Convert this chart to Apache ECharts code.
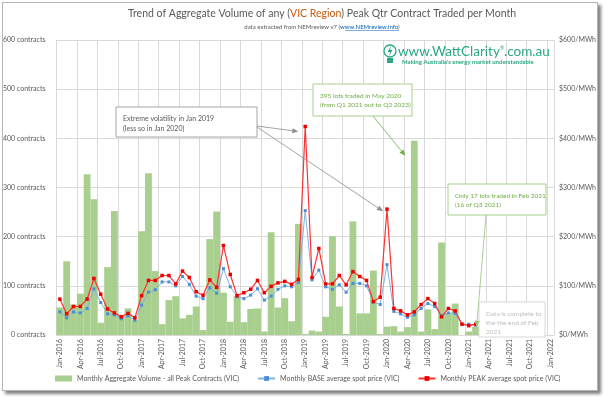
<!DOCTYPE html>
<html>
<head>
<meta charset="utf-8">
<script src="https://cdn.jsdelivr.net/npm/echarts/dist/echarts.min.js"></script>
<style>
html, body { margin: 0; padding: 0; background: #fff; }
#frame { position: absolute; left: 2px; top: 2px; width: 594px; height: 387px; border: 1px solid #b5b5b5; box-shadow: 3px 3px 3px #808080; background: #fff; }
#main { position: absolute; left: 0; top: 0; width: 604px; height: 397px; }
</style>
</head>
<body>
<div id="frame"></div>
<div id="main"></div>
<script>
// month labels Jan-2016 .. Jan-2022
var years = [2016, 2017, 2018, 2019, 2020, 2021, 2022];
var monthNames = ['Jan', 'Feb', 'Mar', 'Apr', 'May', 'Jun', 'Jul', 'Aug', 'Sep', 'Oct', 'Nov', 'Dec'];
var categories = [];
years.forEach(function (y) {
    monthNames.forEach(function (m) { categories.push(m + '-' + y); });
});
categories = categories.slice(0, 73);

// contracts traded per month (Jan 2016 .. Feb 2021)
var volume = [56, 150, 62, 84, 327, 276, 25, 138, 252, 38, 54, 31,
    211, 329, 130, 22, 71, 79, 34, 41, 58, 10, 195, 251,
    86, 27, 79, 26, 53, 54, 7, 209, 56, 75, 28, 226,
    2, 9, 7, 37, 201, 58, 2, 231, 44, 44, 131, 2,
    17, 18, 7, 16, 395, 7, 52, 12, 188, 44, 64, 0,
    7, 17];

// $/MWh
var basePrice = [47, 35, 47, 45, 54, 94, 66, 43, 41, 33, 39, 30,
    61, 87, 92, 108, 108, 100, 119, 103, 79, 74, 96, 85,
    135, 98, 78, 74, 81, 94, 71, 79, 93, 100, 98, 107,
    253, 112, 132, 98, 93, 102, 87, 105, 105, 100, 67, 62,
    143, 48, 43, 36, 41, 54, 64, 58, 39, 45, 44, 22,
    22, 20];

var peakPrice = [73, 43, 58, 58, 73, 115, 83, 53, 45, 37, 44, 35,
    80, 111, 111, 121, 121, 104, 130, 117, 88, 81, 112, 97,
    182, 123, 80, 86, 93, 111, 86, 99, 106, 109, 103, 113,
    424, 117, 176, 104, 104, 121, 102, 129, 119, 111, 68, 77,
    256, 54, 49, 41, 47, 62, 74, 64, 37, 54, 49, 22,
    19, 22];

var seriesNames = ['Monthly Aggregate Volume - all Peak Contracts (VIC)',
    'Monthly BASE average spot price (VIC)',
    'Monthly PEAK average spot price (VIC)'];

var font = 'Lato, "Liberation Sans", sans-serif';
var grey = '#595959';

var myChart = echarts.init(document.getElementById('main'));

var option = {
    animation: false,
    textStyle: { fontFamily: font },
    grid: { left: 53, right: 50, top: 40, bottom: 62 },
    legend: {
        left: 50,
        bottom: 10,
        itemGap: 18,
        itemWidth: 17,
        itemHeight: 6,
        textStyle: { fontSize: 7, color: grey, fontFamily: font },
        data: [
            { name: seriesNames[0], icon: 'rect' },
            { name: seriesNames[1] },
            { name: seriesNames[2] }
        ]
    },
    xAxis: {
        type: 'category',
        data: categories,
        boundaryGap: true,
        axisTick: { show: false },
        axisLine: { lineStyle: { color: '#d9d9d9' } },
        axisLabel: {
            interval: 2,
            rotate: 90,
            fontSize: 7,
            color: grey,
            margin: 4,
            padding: [0, 0, 7, 0]
        },
        splitLine: { show: true, interval: 2, lineStyle: { color: '#d9d9d9' } }
    },
    yAxis: [
        {
            type: 'value',
            min: 0, max: 600, interval: 100,
            axisLine: { show: false },
            axisTick: { show: false },
            axisLabel: { formatter: '{value} contracts', fontSize: 7, color: grey, margin: 11 },
            splitLine: { lineStyle: { color: '#d9d9d9' } }
        },
        {
            type: 'value',
            min: 0, max: 600, interval: 100,
            axisLine: { show: false },
            axisTick: { show: false },
            axisLabel: { formatter: '${value}/MWh', fontSize: 7, color: grey, margin: 5 },
            splitLine: { show: false }
        }
    ],
    series: [
        {
            name: seriesNames[0],
            type: 'bar',
            data: volume,
            barCategoryGap: '0%',
            itemStyle: { color: '#a8cf8e' }
        },
        {
            name: seriesNames[1],
            type: 'line',
            yAxisIndex: 1,
            data: basePrice,
            symbol: 'rect',
            symbolSize: 3,
            color: '#5b9bd5',
            lineStyle: { width: 1, color: '#7fb2e0' },
            itemStyle: { color: '#4a8fd6' }
        },
        {
            name: seriesNames[2],
            type: 'line',
            yAxisIndex: 1,
            data: peakPrice,
            symbol: 'rect',
            symbolSize: 3.5,
            color: '#ff0000',
            lineStyle: { width: 1.2, color: '#ff3030' },
            itemStyle: { color: '#ee0000' }
        }
    ]
};

myChart.setOption(option);

// annotations
function arrow(x1, y1, x2, y2, color, w) {
    var ang = Math.atan2(y2 - y1, x2 - x1);
    var L = 6, W = 2.6;
    var bx = x2 - L * Math.cos(ang), by = y2 - L * Math.sin(ang);
    var px = -Math.sin(ang) * W, py = Math.cos(ang) * W;
    return [
        { type: 'line', z: 100, shape: { x1: x1, y1: y1, x2: bx, y2: by }, style: { stroke: color, lineWidth: w || 1 } },
        { type: 'polygon', z: 100, shape: { points: [[x2, y2], [bx + px, by + py], [bx - px, by - py]] }, style: { fill: color } }
    ];
}

function box(x, y, w, h, lines, stroke, textColor, fontSize) {
    return [
        { type: 'rect', z: 99, shape: { x: x, y: y, width: w, height: h }, style: { fill: '#fff', stroke: stroke, lineWidth: 1 } },
        { type: 'text', z: 100, style: { x: x + 7, y: y + 7, text: lines.join('\n'), fill: textColor, font: fontSize + 'px ' + font, lineHeight: fontSize + 2.5 } }
    ];
}

var toPx = function (idx, val, axis) {
    return myChart.convertToPixel({ xAxisIndex: 0, yAxisIndex: axis }, [idx, val]);
};

var jan19 = toPx(36, peakPrice[36], 1);
var jan20 = toPx(48, peakPrice[48], 1);
var may20 = toPx(52, volume[52], 0);
var feb21 = toPx(61, volume[61], 0);

var graphics = [];
graphics.push({
    type: 'text', z: 100,
    style: {
        x: 322, y: 14, align: 'center', verticalAlign: 'middle',
        text: '{a|Trend of Aggregate Volume of any (}{b|VIC Region}{a|) Peak Qtr Contract Traded per Month}',
        rich: {
            a: { fontSize: 10.5, fontFamily: font, fill: grey },
            b: { fontSize: 10.5, fontFamily: font, fill: '#c55a11' }
        }
    }
});
graphics.push({
    type: 'text', z: 100,
    style: {
        x: 322, y: 27, align: 'center', verticalAlign: 'middle',
        text: '{a|data extracted from NEMreview v7 (}{b|www.NEMreview.info}{a|)}',
        rich: {
            a: { fontSize: 6, fontFamily: font, fill: grey },
            b: { fontSize: 6, fontFamily: font, fill: '#0563c1' }
        }
    }
});
graphics.push({ type: 'line', z: 100, shape: { x1: 345, y1: 30.5, x2: 399, y2: 30.5 }, style: { stroke: '#0563c1', lineWidth: 0.5 } });

// WattClarity logo
graphics.push({ type: 'circle', z: 100, shape: { cx: 390, cy: 51, r: 6 }, style: { fill: 'none', stroke: '#2aa783', lineWidth: 1.3 } });
graphics.push({ type: 'rect', z: 100, shape: { x: 387, y: 58, width: 6, height: 5 }, style: { fill: '#2aa783' } });
graphics.push({ type: 'polygon', z: 100, shape: { points: [[391, 46], [387.5, 52], [390, 52], [389, 56], [392.5, 50], [390, 50]] }, style: { fill: '#2aa783' } });
graphics.push({
    type: 'text', z: 100,
    style: {
        x: 398, y: 52, verticalAlign: 'middle',
        text: '{a|www.WattClarity}{s|®}{a|.com.au}',
        rich: {
            a: { fontSize: 13.5, fontFamily: font, fill: '#2aa783' },
            s: { fontSize: 5, fontFamily: font, fill: '#2aa783', padding: [0, 0, 7, 0] }
        }
    }
});
graphics.push({ type: 'text', z: 100, style: { x: 402, y: 62, text: "Making Australia's energy market understandable", font: 'bold 6px ' + font, fill: '#2aa783', verticalAlign: 'middle' } });

graphics = graphics.concat(box(116, 107, 141, 30, ['Extreme volatility in Jan 2019', '(less so in Jan 2020)'], '#a6a6a6', grey, 7));
graphics = graphics.concat(arrow(257, 126, jan19[0] - 7, jan19[1] + 5, '#8c8c8c', 0.8));
graphics = graphics.concat(arrow(257, 127, jan20[0] - 4, jan20[1] + 2, '#8c8c8c', 0.8));

graphics = graphics.concat(box(313, 84, 99, 32, ['395 lots traded in May 2020', '(from Q1 2021 out to Q2 2023)'], '#a9d18e', '#70ad47', 6.5));
graphics = graphics.concat(arrow(373, 116, may20[0] - 9, may20[1] + 15, '#70ad47', 0.8));

graphics = graphics.concat(box(448, 184, 98, 31, ['Only 17 lots traded in Feb 2021', '(16 of Q3 2021)'], '#a9d18e', '#70ad47', 6.5));
graphics = graphics.concat(arrow(486, 215, feb21[0] + 1, feb21[1], '#92c47a', 0.8));

graphics = graphics.concat(box(479, 302, 66, 35, ['Data is complete to', 'the the end of Feb', '2021'], '#d9d9d9', '#bfbfbf', 6.5));

myChart.setOption({ graphic: graphics });
</script>
</body>
</html>
